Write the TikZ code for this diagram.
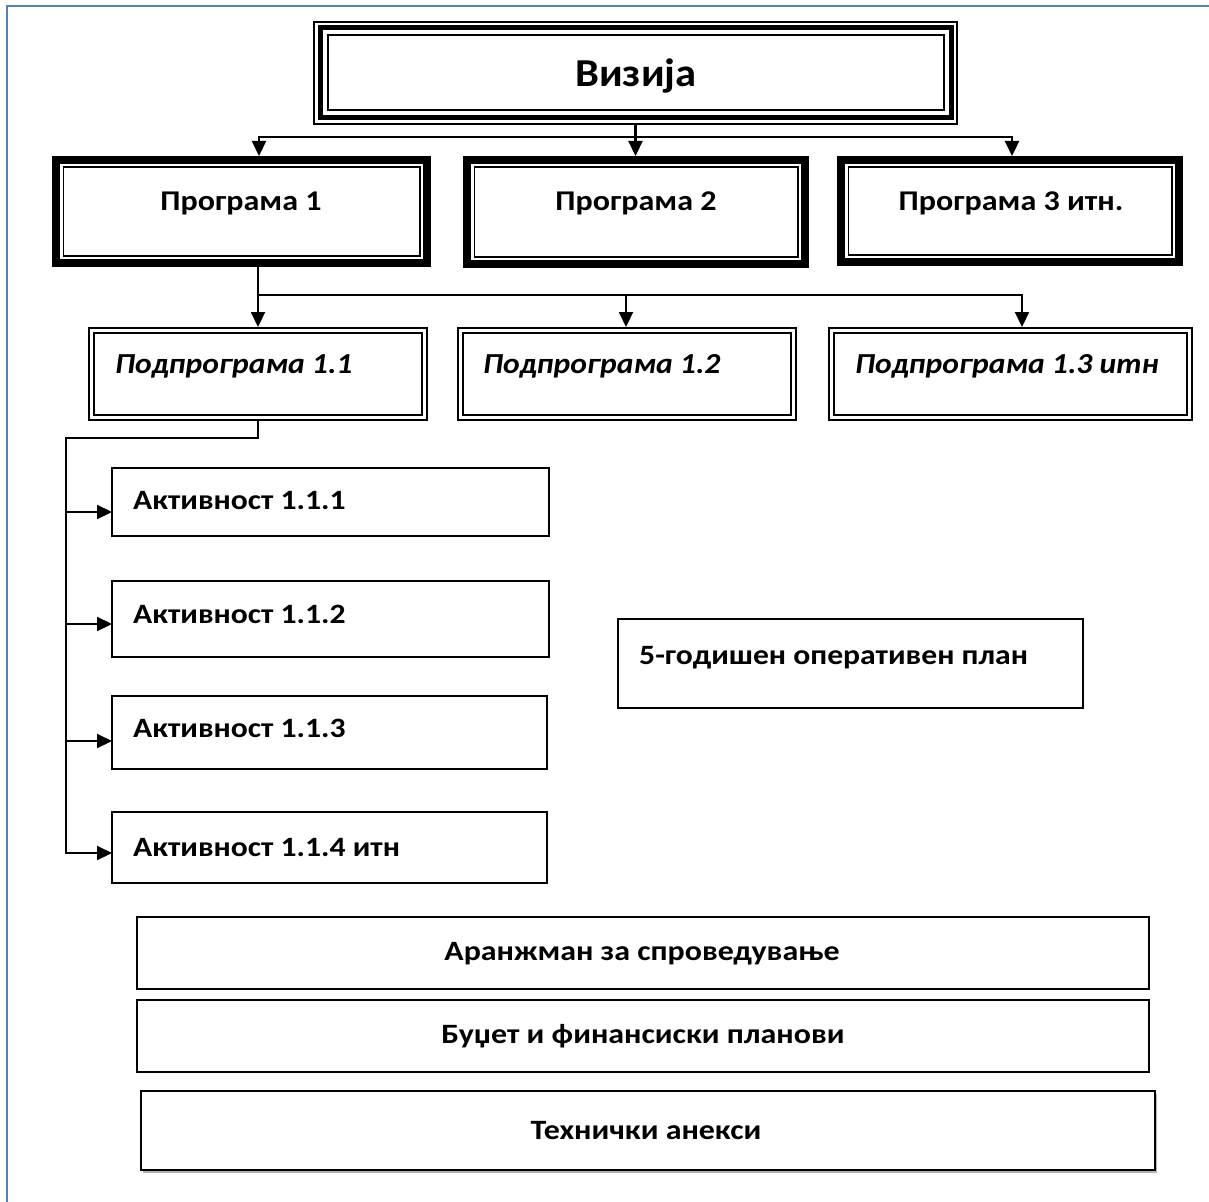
\documentclass[tikz,border=0pt]{standalone}
\usepackage{fontspec}
\setmainfont{Carlito}
\usetikzlibrary{arrows.meta}
\definecolor{frameblue}{RGB}{79,129,189}
\begin{document}
\begin{tikzpicture}[x=1pt,y=1pt,
  line/.style={line width=2.2pt,line cap=rect},
  arr/.style={line width=2.2pt,-{Triangle[length=15pt,width=14pt]}},
  boxbase/.style={fill=white,inner sep=0pt,outer sep=0pt,anchor=north west},
  plainbox/.style={boxbase,draw,line width=1.7pt},
  tripbox/.style={boxbase,path picture={
    \draw[line width=2pt] ([shift={(1pt,-1pt)}]path picture bounding box.north west) rectangle ([shift={(-1pt,1pt)}]path picture bounding box.south east);
    \draw[line width=5pt] ([shift={(7pt,-7pt)}]path picture bounding box.north west) rectangle ([shift={(-7pt,7pt)}]path picture bounding box.south east);
    \draw[line width=2pt] ([shift={(14.5pt,-14.5pt)}]path picture bounding box.north west) rectangle ([shift={(-14.5pt,14.5pt)}]path picture bounding box.south east);
  }},
  thickbox/.style={boxbase,path picture={
    \draw[line width=8pt] ([shift={(4pt,-4pt)}]path picture bounding box.north west) rectangle ([shift={(-4pt,4pt)}]path picture bounding box.south east);
    \draw[line width=1.5pt] ([shift={(11.25pt,-11.25pt)}]path picture bounding box.north west) rectangle ([shift={(-11.25pt,11.25pt)}]path picture bounding box.south east);
  }},
  dblbox/.style={boxbase,path picture={
    \draw[line width=2pt] ([shift={(1pt,-1pt)}]path picture bounding box.north west) rectangle ([shift={(-1pt,1pt)}]path picture bounding box.south east);
    \draw[line width=2pt] ([shift={(6pt,-6pt)}]path picture bounding box.north west) rectangle ([shift={(-6pt,6pt)}]path picture bounding box.south east);
  }},
  bigtxt/.style={font=\fontsize{39.6}{42}\selectfont\bfseries\addfontfeature{FakeStretch=1.075},inner sep=0pt,anchor=base},
  progtxt/.style={font=\fontsize{28.6}{32}\selectfont\bfseries\addfontfeature{FakeStretch=1.12},inner sep=0pt,anchor=base},
  subtxt/.style={font=\fontsize{29}{32}\selectfont\bfseries\itshape\addfontfeature{FakeStretch=1.09},inner sep=0pt,anchor=base west},
  acttxt/.style={font=\fontsize{28}{32}\selectfont\bfseries\addfontfeature{FakeStretch=1.13},inner sep=0pt,anchor=base west},
  bottxt/.style={font=\fontsize{28}{32}\selectfont\bfseries\addfontfeature{FakeStretch=1.14},inner sep=0pt,anchor=base},
]
\useasboundingbox (0,0) rectangle (1209,-1201);
\fill[white] (0,0) rectangle (1209,-1201);
% blue page frame
\draw[frameblue,line width=2.5pt] (7,-1203) -- (7,-6) -- (1211,-6);

% vision
\node[tripbox,minimum width=645pt,minimum height=104pt] (v) at (313,-21) {};
\node[bigtxt] (vt) at (636,-87) {Визија};

% programmes
\node[thickbox,minimum width=379pt,minimum height=111pt] (p1) at (52,-156) {};
\node[thickbox,minimum width=346pt,minimum height=112pt] (p2) at (463,-156) {};
\node[thickbox,minimum width=346pt,minimum height=110pt] (p3) at (837,-156) {};
\node[progtxt] (p1t) at (241,-210) {Програма 1};
\node[progtxt] (p2t) at (636,-210) {Програма 2};
\node[progtxt] (p3t) at (1011,-210) {Програма 3 итн.};

% sub-programmes
\node[dblbox,minimum width=340pt,minimum height=94pt] (s1) at (88,-327) {};
\node[dblbox,minimum width=340pt,minimum height=94pt] (s2) at (457,-327) {};
\node[dblbox,minimum width=365pt,minimum height=94pt] (s3) at (828,-327) {};
\node[subtxt] (s1t) at (115,-373) {Подпрограма 1.1};
\node[subtxt] (s2t) at (483,-373) {Подпрограма 1.2};
\node[subtxt] (s3t) at (855,-373) {Подпрограма 1.3 итн};

% activities
\node[plainbox,minimum width=437pt,minimum height=68pt] (a1) at (112,-468) {};
\node[plainbox,minimum width=437pt,minimum height=76pt] (a2) at (112,-581) {};
\node[plainbox,minimum width=435pt,minimum height=73pt] (a3) at (112,-696) {};
\node[plainbox,minimum width=435pt,minimum height=71pt] (a4) at (112,-812) {};
\node[acttxt] (a1t) at (133,-509) {Активност 1.1.1};
\node[acttxt] (a2t) at (133,-623) {Активност 1.1.2};
\node[acttxt] (a3t) at (133,-737) {Активност 1.1.3};
\node[acttxt] (a4t) at (133,-856) {Активност 1.1.4 итн};

% operational plan
\node[plainbox,minimum width=465pt,minimum height=89pt] (op) at (618,-619) {};
\node[acttxt] (opt) at (639,-664) {5-годишен оперативен план};

% bottom boxes
\node[plainbox,minimum width=1012pt,minimum height=72pt] (b1) at (137,-917) {};
\node[plainbox,minimum width=1012pt,minimum height=72pt] (b2) at (137,-1000) {};
\fill[gray!60] (143,-1094) rectangle (1157,-1173);
\node[plainbox,minimum width=1014pt,minimum height=79pt] (b3) at (141,-1091) {};
\node[bottxt] (b1t) at (642,-960) {Аранжман за спроведување};
\node[bottxt] (b2t) at (643,-1043) {Буџет и финансиски планови};
\node[bottxt] (b3t) at (646,-1139) {Технички анекси};

% connectors: vision -> programmes
\coordinate (h1) at (259,-137);
\coordinate (h3) at (1012,-137);
\draw[line] (h1) -- (h3);
\draw[arr] (v.south) -- (v.south |- p2.north);
\draw[arr] (h1) -- (h1 |- p1.north);
\draw[arr] (h3) -- (h3 |- p3.north);

% programme 1 -> sub-programmes
\coordinate (g1) at (258,-295);
\coordinate (g2) at (626,-295);
\coordinate (g3) at (1022,-295);
\draw[line] (g1 |- p1.south) -- (g1) -- (g3);
\draw[arr] (g1) -- (g1 |- s1.north);
\draw[arr] (g2) -- (g2 |- s2.north);
\draw[arr] (g3) -- (g3 |- s3.north);

% sub-programme 1.1 -> activities
\coordinate (k0) at (66,-438);
\coordinate (k1) at (66,-512);
\coordinate (k2) at (66,-624);
\coordinate (k3) at (66,-741);
\coordinate (k4) at (66,-853);
\draw[line] (s1.south) |- (k0) -- (k4);
\draw[arr] (k1) -- (k1 -| a1.west);
\draw[arr] (k2) -- (k2 -| a2.west);
\draw[arr] (k3) -- (k3 -| a3.west);
\draw[arr] (k4) -- (k4 -| a4.west);
\end{tikzpicture}
\end{document}
